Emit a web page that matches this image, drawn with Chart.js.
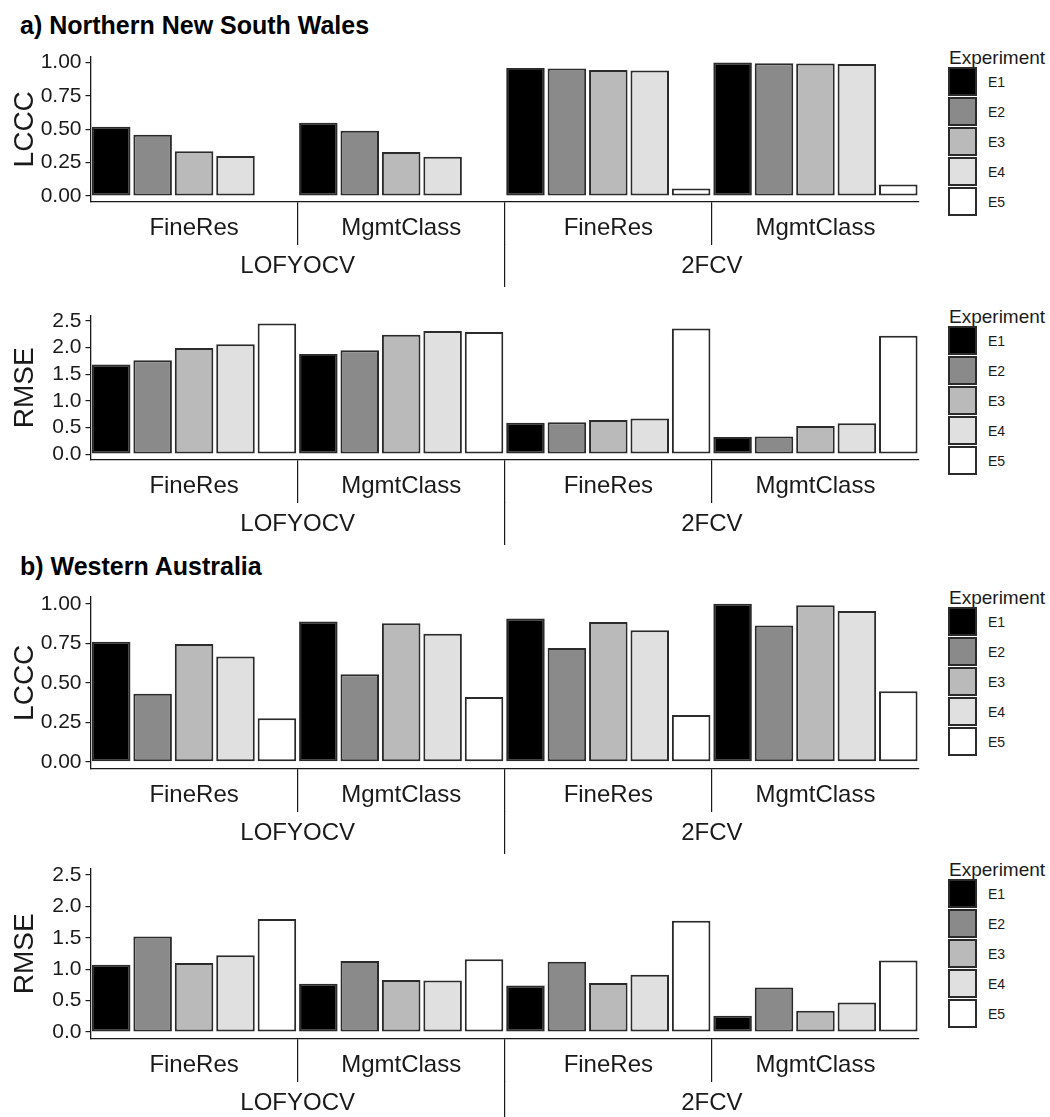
<!DOCTYPE html>
<html>
<head>
<meta charset="utf-8">
<title>LCCC / RMSE by experiment</title>
<script src="https://cdn.jsdelivr.net/npm/chart.js@4.4.1/dist/chart.umd.min.js"></script>
<style>
  body { margin: 0; background: #fff; font-family: 'Liberation Sans', Arial, sans-serif; }
  #page { position: relative; width: 1050px; height: 1117px; overflow: hidden; background: #fff; }
  .region-title { position: absolute; left: 20px; font-weight: bold; font-size: 25px; line-height: 28px; color: #000; white-space: nowrap; }
  .panel { position: absolute; left: 0; width: 930px; }
  .legend { position: absolute; left: 948px; width: 100px; }
  .legend-title { position: absolute; left: 1px; font-size: 19px; line-height: 20px; color: #1a1a1a; white-space: nowrap; }
  .legend-item { position: absolute; left: 0; height: 30px; width: 100px; }
  .swatch { position: absolute; left: 0; top: 0; width: 29px; height: 29px; box-sizing: border-box; border: 2px solid #2b2b2b; }
  .legend-label { position: absolute; left: 40px; top: 0; line-height: 30px; font-size: 14px; color: #1a1a1a; }
</style>
</head>
<body>
<div id="page">
  <div class="region-title" style="top:11px">a) Northern New South Wales</div>
  <div class="region-title" style="top:552px">b) Western Australia</div>
</div>

<script>
// Categorías del eje x (dos niveles) y series E1..E5
const GROUPS = ['FineRes', 'MgmtClass', 'FineRes', 'MgmtClass'];
const CV_METHODS = ['LOFYOCV', '2FCV'];
const EXPERIMENTS = ['E1', 'E2', 'E3', 'E4', 'E5'];
const FILLS = ['#000000', '#8a8a8a', '#bababa', '#e0e0e0', '#ffffff'];

const LCCC_TICKS = [0, 0.25, 0.5, 0.75, 1];
const RMSE_TICKS = [0, 0.5, 1, 1.5, 2, 2.5];

// Una fila por experimento, columnas en el orden de GROUPS
const NSW_LCCC = [
  [0.52, 0.55, 0.96, 1.00],
  [0.46, 0.49, 0.955, 0.995],
  [0.335, 0.33, 0.945, 0.993],
  [0.30, 0.295, 0.94, 0.99],
  [null, null, 0.057, 0.086]
];
const NSW_RMSE = [
  [1.68, 1.88, 0.59, 0.32],
  [1.76, 1.95, 0.60, 0.33],
  [1.99, 2.24, 0.64, 0.53],
  [2.06, 2.31, 0.67, 0.58],
  [2.45, 2.29, 2.36, 2.22]
];
const WA_LCCC = [
  [0.76, 0.887, 0.906, 1.00],
  [0.43, 0.554, 0.72, 0.862],
  [0.745, 0.877, 0.885, 0.99],
  [0.667, 0.81, 0.833, 0.954],
  [0.276, 0.41, 0.297, 0.446]
];
const WA_RMSE = [
  [1.07, 0.77, 0.74, 0.26],
  [1.52, 1.13, 1.12, 0.71],
  [1.10, 0.83, 0.78, 0.34],
  [1.22, 0.82, 0.91, 0.47],
  [1.80, 1.16, 1.77, 1.14]
];

const FONT = "'Liberation Sans', Arial, sans-serif";
const INK = '#1a1a1a';
const HIDDEN = 'rgba(0,0,0,0)';

// plotTop / plotBottom: borde superior del eje y y línea del eje x, en px de la página
const PANELS = [
  { values: NSW_LCCC, title: 'LCCC', ticks: LCCC_TICKS, min: -0.045, max: 1.045, decimals: 2, plotTop: 55, plotBottom: 202 },
  { values: NSW_RMSE, title: 'RMSE', ticks: RMSE_TICKS, min: -0.11, max: 2.6, decimals: 1, plotTop: 314, plotBottom: 460 },
  { values: WA_LCCC, title: 'LCCC', ticks: LCCC_TICKS, min: -0.045, max: 1.045, decimals: 2, plotTop: 595, plotBottom: 769 },
  { values: WA_RMSE, title: 'RMSE', ticks: RMSE_TICKS, min: -0.11, max: 2.6, decimals: 1, plotTop: 867, plotBottom: 1039 }
];

const TOP_PAD = 15;
const AXIS_AREA = 88;   // alto de los dos niveles del eje x
const INNER_AXIS = 42;  // alto del primer nivel (FineRes / MgmtClass)

function buildLegend(page, top) {
  const box = document.createElement('div');
  box.className = 'legend';
  box.style.top = top + 'px';
  box.innerHTML = '<div class="legend-title" style="top:-7px">Experiment</div>' +
    EXPERIMENTS.map((name, i) => `
      <div class="legend-item" style="top:${12 + i * 30}px">
        <div class="swatch" style="background:${FILLS[i]}"></div>
        <div class="legend-label">${name}</div>
      </div>`).join('');
  page.appendChild(box);
}

function renderPanel(page, p) {
  const wrap = document.createElement('div');
  wrap.className = 'panel';
  const height = p.plotBottom - p.plotTop + TOP_PAD + AXIS_AREA;
  wrap.style.top = (p.plotTop - TOP_PAD) + 'px';
  wrap.style.height = height + 'px';
  const canvas = document.createElement('canvas');
  canvas.width = 930;
  canvas.height = height;
  wrap.appendChild(canvas);
  page.appendChild(wrap);

  new Chart(canvas, {
    type: 'bar',
    data: {
      labels: GROUPS,
      datasets: EXPERIMENTS.map((name, i) => ({
        label: name,
        data: p.values[i],
        backgroundColor: FILLS[i],
        borderColor: '#2b2b2b',
        borderWidth: 2,
        borderSkipped: false,
        categoryPercentage: 1,
        barPercentage: 0.93
      }))
    },
    options: {
      responsive: false,
      animation: false,
      devicePixelRatio: 1,
      layout: { padding: { top: TOP_PAD, right: 11, left: 0, bottom: 0 } },
      plugins: { legend: { display: false }, tooltip: { enabled: false } },
      scales: {
        y: {
          min: p.min,
          max: p.max,
          afterBuildTicks: s => { s.ticks = p.ticks.map(v => ({ value: v })); },
          afterFit: s => { s.width = 90.5; },
          grid: { drawOnChartArea: false, drawTicks: true, tickLength: 5, color: INK, lineWidth: 1.2 },
          border: { display: true, color: INK, width: 1.3 },
          ticks: { color: INK, padding: 4, font: { family: FONT, size: 21 }, callback: v => Number(v).toFixed(p.decimals) },
          title: { display: true, text: p.title, color: INK, font: { family: FONT, size: 28 }, padding: { top: 8, bottom: 0 } }
        },
        x: {
          weight: 0,
          afterFit: s => { s.height = INNER_AXIS; },
          grid: {
            offset: true, drawOnChartArea: false, drawTicks: true, tickLength: 43, lineWidth: 1.2,
            color: c => (c.index >= 1 && c.index <= 3) ? INK : HIDDEN
          },
          border: { display: true, color: INK, width: 1.3 },
          ticks: { color: INK, padding: -31, autoSkip: false, maxRotation: 0, font: { family: FONT, size: 24 } }
        },
        x2: {
          type: 'category',
          labels: CV_METHODS,
          position: 'bottom',
          offset: true,
          weight: 1,
          afterFit: s => { s.height = AXIS_AREA - INNER_AXIS; },
          grid: {
            offset: true, drawOnChartArea: false, drawTicks: true, tickLength: 43, lineWidth: 1.2,
            color: c => c.index === 1 ? INK : HIDDEN
          },
          border: { display: false },
          ticks: { color: INK, padding: -35, autoSkip: false, maxRotation: 0, font: { family: FONT, size: 24 } }
        }
      }
    }
  });

  buildLegend(page, p.plotTop);
}

document.addEventListener('DOMContentLoaded', () => {
  const page = document.getElementById('page');
  PANELS.forEach(p => renderPanel(page, p));
});
</script>
</body>
</html>
